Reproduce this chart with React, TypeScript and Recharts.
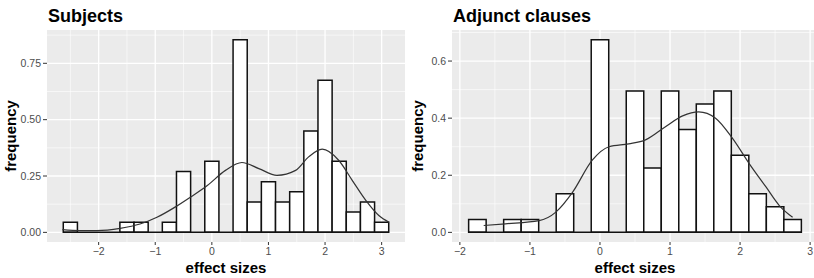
import React from "react";
import { ComposedChart, Line, XAxis, YAxis, CartesianGrid, ReferenceArea, ReferenceLine, Label } from "recharts";

const BIN_WIDTH = 0.25;
const FONT = "'Liberation Sans', Arial, sans-serif";

// Subjects panel
const subjBins = [-2.5, -2.25, -2, -1.75, -1.5, -1.25, -1, -0.75, -0.5, -0.25, 0, 0.25, 0.5, 0.75, 1, 1.25, 1.5, 1.75, 2, 2.25, 2.5, 2.75, 3];
const subjFreq = [0.045, 0, 0, 0, 0.045, 0.045, 0, 0.045, 0.27, 0, 0.315, 0, 0.855, 0.135, 0.225, 0.135, 0.18, 0.45, 0.675, 0.315, 0.09, 0.135, 0.045];
const subjCurveX = [-2.64, -2.33, -2.03, -1.62, -1.27, -0.97, -0.65, -0.38, -0.08, 0.24, 0.53, 0.83, 1.15, 1.48, 1.71, 1.95, 2.24, 2.48, 2.72, 2.95, 3.13];
const subjCurveY = [0.012, 0.008, 0.008, 0.018, 0.037, 0.067, 0.112, 0.156, 0.208, 0.275, 0.31, 0.283, 0.253, 0.275, 0.335, 0.369, 0.32, 0.231, 0.142, 0.075, 0.045];
const subjYTicks = [0, 0.25, 0.5, 0.75];

// Adjunct clauses panel
const adjBins = [-1.75, -1.5, -1.25, -1, -0.75, -0.5, -0.25, 0, 0.25, 0.5, 0.75, 1, 1.25, 1.5, 1.75, 2, 2.25, 2.5, 2.75];
const adjFreq = [0.045, 0, 0.045, 0.045, 0, 0.135, 0, 0.675, 0, 0.495, 0.225, 0.495, 0.36, 0.45, 0.495, 0.27, 0.135, 0.09, 0.045];
const adjCurveX = [-1.66, -1.35, -0.87, -0.63, -0.39, -0.11, 0.13, 0.41, 0.65, 0.94, 1.18, 1.41, 1.65, 1.89, 2.13, 2.37, 2.56, 2.75];
const adjCurveY = [0.024, 0.03, 0.041, 0.071, 0.141, 0.253, 0.3, 0.31, 0.324, 0.371, 0.408, 0.422, 0.4, 0.33, 0.241, 0.159, 0.094, 0.053];
const adjYTicks = [0, 0.2, 0.4, 0.6];

const xTicks = [-2, -1, 0, 1, 2, 3];

function minorValues(ticks: number[], dom: number[]) {
  const step = ticks[1] - ticks[0];
  const out: number[] = [];
  for (let v = ticks[0] - step / 2; v <= dom[1]; v += step) {
    if (v >= dom[0]) out.push(v);
  }
  return out;
}

interface PanelProps {
  title: string;
  bins: number[];
  freq: number[];
  curveX: number[];
  curveY: number[];
  yTicks: number[];
  digits: number;
  left: number;
  width: number;
  yAxisWidth: number;
  marginRight: number;
}

function Panel({ title, bins, freq, curveX, curveY, yTicks, digits, left, width, yAxisWidth, marginRight }: PanelProps) {
  const half = BIN_WIDTH / 2;
  const lo = bins[0] - half;
  const hi = bins[bins.length - 1] + half;
  const xPad = (hi - lo) * 0.05;
  const xDomain = [lo - xPad, hi + xPad];
  const yMax = Math.max(...freq);
  const yDomain = [-yMax * 0.05, yMax * 1.05];
  const curve = curveX.map((x, i) => ({ x, y: curveY[i] }));
  const tickStyle = { fill: "#4d4d4d", fontSize: 10.5, fontFamily: FONT };

  return (
    <div style={{ position: "absolute", left, top: 0, width, height: 278 }}>
      <div style={{ position: "absolute", left: yAxisWidth + 1, top: 7, fontFamily: FONT, fontWeight: "bold", fontSize: 18, lineHeight: "18px", color: "#000", whiteSpace: "nowrap" }}>
        {title}
      </div>
      <ComposedChart width={width} height={278} margin={{ top: 30, right: marginRight, bottom: 0, left: 0 }}>
        <CartesianGrid fill="#ebebeb" stroke="#ffffff" strokeWidth={0.6} horizontalValues={minorValues(yTicks, yDomain)} verticalValues={minorValues(xTicks, xDomain)} />
        <CartesianGrid fill="none" stroke="#ffffff" strokeWidth={1.3} horizontalValues={yTicks} verticalValues={xTicks} />
        <XAxis type="number" dataKey="x" domain={xDomain} ticks={xTicks} allowDataOverflow height={36} axisLine={false} tickSize={3} tickMargin={2.5} tickLine={{ stroke: "#333333" }} tick={tickStyle} tickFormatter={(v: number) => (v < 0 ? "\u2212" + Math.abs(v) : String(v))}>
          <Label value="effect sizes" position="insideBottom" offset={5} style={{ fontFamily: FONT, fontWeight: "bold", fontSize: 15, fill: "#000" }} />
        </XAxis>
        <YAxis type="number" domain={yDomain} ticks={yTicks} allowDataOverflow width={yAxisWidth} axisLine={false} tickSize={4} tickMargin={2} tickLine={{ stroke: "#333333" }} tick={tickStyle} tickFormatter={(v: number) => v.toFixed(digits)}>
          <Label value="frequency" angle={-90} position="insideLeft" offset={11} style={{ fontFamily: FONT, fontWeight: "bold", fontSize: 15, fill: "#000", textAnchor: "middle" }} />
        </YAxis>
        <ReferenceLine segment={[{ x: lo, y: 0 }, { x: hi, y: 0 }]} stroke="#111111" strokeWidth={1.5} ifOverflow="visible" />
        {bins.map((b, i) => (
          <ReferenceArea key={i} x1={b - half} x2={b + half} y1={0} y2={freq[i]} fill="#ffffff" fillOpacity={1} stroke="#111111" strokeWidth={1.5} ifOverflow="visible" />
        ))}
        <Line data={curve} dataKey="y" type="monotone" stroke="#333333" strokeWidth={1.2} dot={false} activeDot={false} isAnimationActive={false} />
      </ComposedChart>
    </div>
  );
}

export default function App() {
  return (
    <div style={{ position: "absolute", left: 0, top: 0, width: 814, height: 278, overflow: "hidden", background: "#fff" }}>
      <Panel title="Subjects" bins={subjBins} freq={subjFreq} curveX={subjCurveX} curveY={subjCurveY} yTicks={subjYTicks} digits={2} left={0} width={407} yAxisWidth={47} marginRight={2} />
      <Panel title="Adjunct clauses" bins={adjBins} freq={adjFreq} curveX={adjCurveX} curveY={adjCurveY} yTicks={adjYTicks} digits={1} left={407} width={411} yAxisWidth={45} marginRight={0} />
    </div>
  );
}
